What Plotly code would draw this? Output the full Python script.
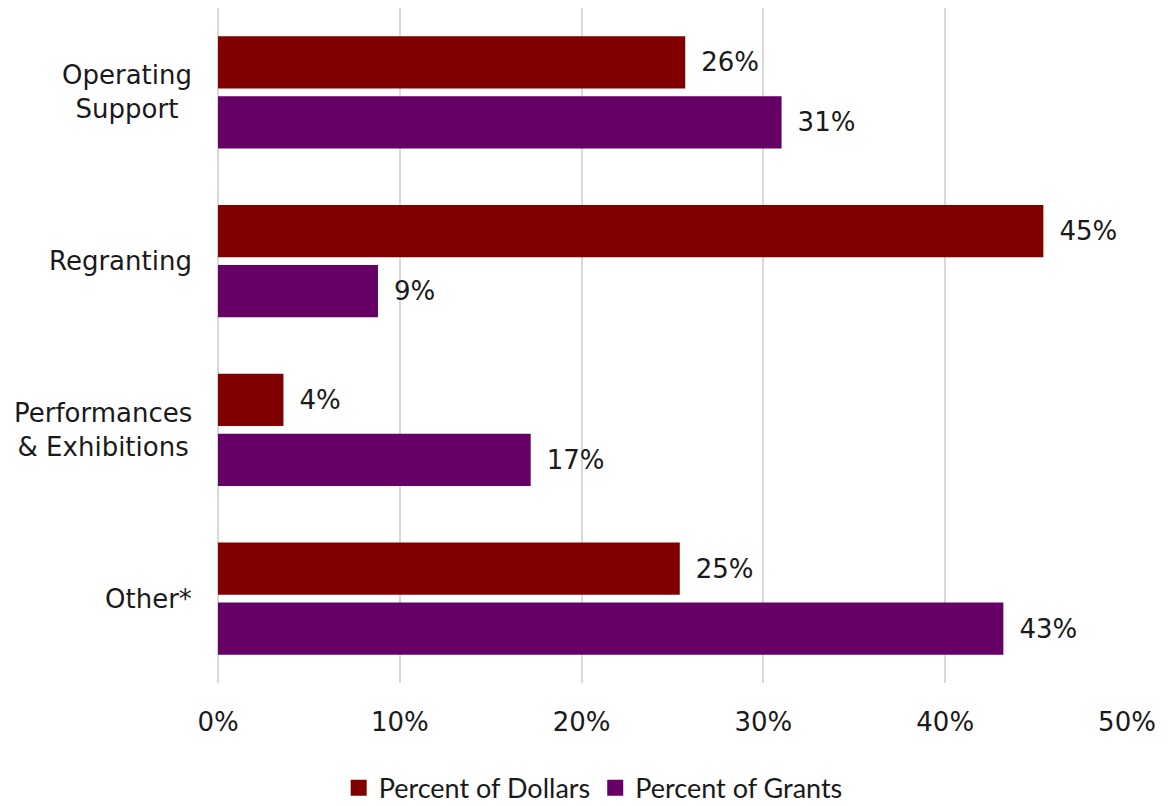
import plotly.graph_objects as go

categories = ["Operating<br>Support", "Regranting", "Performances<br>& Exhibitions", "Other*"]
pct_dollars = [25.7, 45.4, 3.6, 25.4]
pct_grants = [31.0, 8.8, 17.2, 43.2]
series_names = ["Percent of Dollars", "Percent of Grants"]
colors = ["#800000", "#660066"]
x_ticks = [0, 0.1, 0.2, 0.3, 0.4, 0.5]

FONT = "DejaVu Sans"
TXT = "#1a1a1a"

fig = go.Figure()
for name, vals, col in zip(series_names, [pct_dollars, pct_grants], colors):
    fig.add_trace(go.Bar(
        y=categories,
        x=[v / 100 for v in vals],
        name=name,
        orientation="h",
        marker=dict(color=col, line=dict(width=0)),
        text=["\u2002" + f"{round(v):.0f}%" for v in vals],
        textposition="outside",
        textfont=dict(family=FONT, size=26, color=TXT),
        constraintext="none",
        cliponaxis=False,
        hoverinfo="skip",
        showlegend=False,
    ))

# legend proxies with larger square swatches
for name, col in zip(series_names, colors):
    fig.add_trace(go.Scatter(
        x=[None], y=[None], mode="markers", name=name,
        marker=dict(symbol="square", size=17, color=col),
        hoverinfo="skip",
    ))

for c in categories:
    fig.add_annotation(
        x=0, y=c, xref="paper", yref="y",
        text=c, showarrow=False,
        xanchor="right", yanchor="middle", align="center",
        xshift=-24,
        font=dict(family=FONT, size=26, color=TXT),
    )

fig.update_layout(
    width=1170, height=806,
    margin=dict(l=218, r=43, t=8, b=123),
    paper_bgcolor="white", plot_bgcolor="white",
    barmode="group", bargap=0.289, bargroupgap=0.133,
    showlegend=True,
    legend=dict(
        orientation="h", xref="container", yref="container",
        x=0.507, y=0.022, xanchor="center", yanchor="middle",
        font=dict(family="Lato", size=27, color=TXT),
        itemwidth=30, tracegroupgap=0, itemsizing="trace",
    ),
    xaxis=dict(
        range=[0, 0.5], tickvals=x_ticks, tickformat=".0%",
        showgrid=True, gridcolor="#d9d9d9", gridwidth=2,
        zeroline=True, zerolinecolor="#d9d9d9", zerolinewidth=2,
        showline=False, ticks="",
        ticklabelstandoff=21,
        tickfont=dict(family=FONT, size=26, color=TXT),
        fixedrange=True,
    ),
    yaxis=dict(
        autorange="reversed", showticklabels=False, showgrid=False,
        zeroline=False, showline=False, ticks="",
        fixedrange=True,
    ),
)

fig.write_html("out.html")
